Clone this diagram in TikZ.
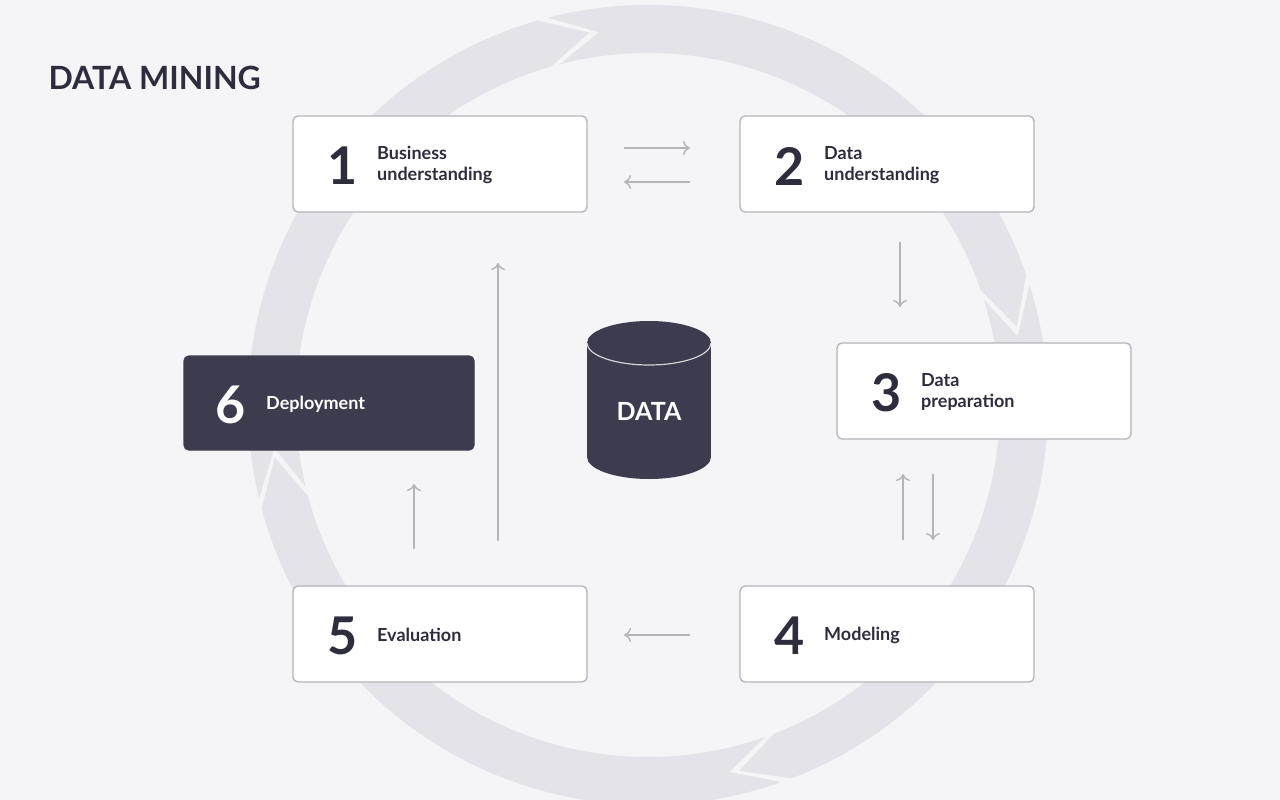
\documentclass[tikz,border=0pt]{standalone}
\usepackage{fontspec}
\setmainfont{Lato}
\usetikzlibrary{positioning,arrows.meta}
\definecolor{bg}{HTML}{F5F5F7}
\definecolor{ring}{HTML}{E3E3E9}
\definecolor{ink}{HTML}{2E2D3D}
\definecolor{dark}{HTML}{3D3C4F}
\definecolor{edge}{HTML}{B4B4BA}
\begin{document}
\begin{tikzpicture}[x=1pt,y=-1pt,
    >={To[length=7pt,width=14pt]},
    stage/.style={draw=edge,line width=1.3pt,fill=white,rounded corners=5pt,
                 minimum width=294pt,minimum height=96pt,inner sep=0pt},
    num/.style={font=\fontsize{52}{52}\selectfont\bfseries,text=ink},
    lab/.style={font=\fontsize{18}{21}\selectfont\bfseries,text=ink,align=left,anchor=west,inner sep=1pt},
    flow/.style={draw=edge,line width=1.4pt,->}]
    %Background
        \fill[bg] (0,0) rectangle (1280,800);
        \useasboundingbox (0,0) rectangle (1280,800);
    %Ring
        \begin{scope}[shift={(648,405)}]
            \foreach \s/\e in {-106/-19,-19/69,69/165,165/254}{
                \fill[ring] (\s+1.5:400) arc[start angle=\s+1.5,end angle=\e,radius=400]
                    -- (\e+7:377) -- (\e:352)
                    arc[start angle=\e,end angle=\s+1.5,radius=352]
                    -- (\s+8.5:376) -- cycle;
            }
        \end{scope}
    %Title
        \node[anchor=west,font=\fontsize{32}{32}\selectfont\bfseries,text=ink] (title) at (45,78) {DATA MINING};
    %Stages
        \node[stage] (b1) at (440,164) {};
        \node[stage] (b2) at (887,164) {};
        \node[stage] (b3) at (984,391) {};
        \node[stage] (b4) at (887,634) {};
        \node[stage] (b5) at (440,634) {};
        \node[stage,fill=dark,draw=dark,minimum width=290pt,minimum height=94pt] (b6) at (329,403) {};
        \node[num] (n1) at (343,166) {1};
        \node[lab] (t1) at (376,165) {Business\\understanding};
        \node[num] (n2) at (790,166) {2};
        \node[lab] (t2) at (823,165) {Data\\understanding};
        \node[num] (n3) at (887,393) {3};
        \node[lab] (t3) at (920,392) {Data\\preparation};
        \node[num] (n4) at (790,636) {4};
        \node[lab] (t4) at (823,635) {Modeling};
        \node[num] (n5) at (343,636) {5};
        \node[lab] (t5) at (376,635) {Evaluation};
        \node[num,text=white] (n6) at (231,405) {6};
        \node[lab,text=white] (t6) at (265,404) {Deployment};
    %Data store
        \fill[dark] (587,343) rectangle (711,457);
        \fill[dark] (649,457) ellipse[x radius=62,y radius=22];
        \fill[dark] (649,343) ellipse[x radius=62,y radius=22];
        \draw[edge!60,line width=1.2pt] (587,343) arc[start angle=180,end angle=360,x radius=62,y radius=-22];
        \node[font=\fontsize{25}{25}\selectfont\bfseries,text=white] (data) at (649,411) {DATA};
    %Flow points
        \coordinate (a1) at (624,148); \coordinate (a2) at (690,148);
        \coordinate (c1) at (690,182); \coordinate (c2) at (624,182);
        \coordinate (d1) at (900,242); \coordinate (d2) at (900,307);
        \coordinate (e1) at (903,540); \coordinate (e2) at (903,474);
        \coordinate (f1) at (933,474); \coordinate (f2) at (933,540);
        \coordinate (g1) at (690,635); \coordinate (g2) at (624,635);
        \coordinate (h1) at (414,549); \coordinate (h2) at (414,484);
        \coordinate (k1) at (498,541); \coordinate (k2) at (498,263);
    %Arrows
        \draw[flow] (a1) -- (a2);
        \draw[flow] (c1) -- (c2);
        \draw[flow] (d1) -- (d2);
        \draw[flow] (e1) -- (e2);
        \draw[flow] (f1) -- (f2);
        \draw[flow] (g1) -- (g2);
        \draw[flow] (h1) -- (h2);
        \draw[flow] (k1) -- (k2);
\end{tikzpicture}
\end{document}
